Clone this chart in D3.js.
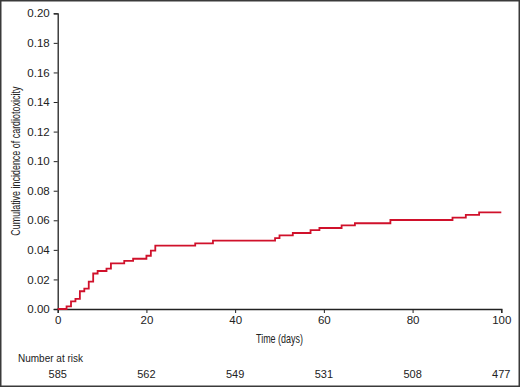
<!DOCTYPE html>
<html>
<head>
<meta charset="utf-8">
<script src="https://cdn.jsdelivr.net/npm/d3@7"></script>
<style>
  body { margin: 0; background: #fff; }
  svg { display: block; }
</style>
</head>
<body>
<div id="chart"></div>
<script>
var width = 520;
var height = 387;

// step times (days) and cumulative incidence after each step
var stepDays = [0, 2, 3, 4, 5, 6, 7, 8, 9, 11, 12, 15, 17, 20, 21, 22, 31, 35, 49, 50, 53, 57, 59, 64, 67, 75, 89, 92, 95];
var stepValues = [0, 0.0018, 0.0052, 0.0068, 0.012, 0.0138, 0.0185, 0.024, 0.0257, 0.0273, 0.0309, 0.0325, 0.034, 0.036, 0.0395, 0.0428, 0.0444, 0.0462, 0.048, 0.0498, 0.0514, 0.0534, 0.0548, 0.0566, 0.058, 0.0602, 0.0618, 0.0636, 0.0654];
var endDay = 100;

var xTicks = [0, 20, 40, 60, 80, 100];
var yTicks = [0, 0.02, 0.04, 0.06, 0.08, 0.10, 0.12, 0.14, 0.16, 0.18, 0.20];
var atRisk = [585, 562, 549, 531, 508, 477];

var margin = { left: 57.7, right: 520 - 501.3, top: 13.3, bottom: 387 - 309 };

var svg = d3.select("#chart")
            .append("svg")
            .attr("width", width)
            .attr("height", height);

// frame round the figure
svg.append("rect")
    .attr("x", 0.75)
    .attr("y", 0.75)
    .attr("width", width - 1.5)
    .attr("height", height - 1.5)
    .attr("fill", "white")
    .attr("stroke", "#3a3a3a")
    .attr("stroke-width", 1.5);

var x = d3.scaleLinear().domain([0, 100]).range([margin.left, width - margin.right]);
var y = d3.scaleLinear().domain([0, 0.2]).range([height - margin.bottom, margin.top]);

var tickFont = "Liberation Sans, Arial, sans-serif";

var xAxis = d3.axisBottom(x)
                .tickValues(xTicks)
                .tickSize(4)
                .tickPadding(3)
                .tickFormat(d3.format("d"));
var gx = svg.append("g")
    .attr("transform", "translate(0," + y(0) + ")")
    .call(xAxis);

var yAxis = d3.axisLeft(y)
                .tickValues(yTicks)
                .tickSize(4)
                .tickPadding(4)
                .tickFormat(d3.format(".2f"));
var gy = svg.append("g")
    .attr("transform", "translate(" + x(0) + ",0)")
    .call(yAxis);

[gx, gy].forEach(function(g) {
    g.select(".domain").attr("stroke", "#222").attr("stroke-width", 1.3);
    g.selectAll(".tick line").attr("stroke", "#222").attr("stroke-width", 1);
    g.selectAll(".tick text")
        .attr("fill", "#222")
        .style("font-family", tickFont)
        .style("font-size", "11.5px");
});

// step curve
var curvePts = stepDays.map(function(d, i) { return { t: d, v: stepValues[i] }; });
curvePts.push({ t: endDay, v: stepValues[stepValues.length - 1] });

var line = d3.line()
    .x(function(d) { return x(d.t); })
    .y(function(d) { return y(d.v); })
    .curve(d3.curveStepAfter);

svg.append("path")
    .datum(curvePts)
    .attr("d", line)
    .attr("fill", "none")
    .attr("stroke", "#d0112b")
    .attr("stroke-width", 1.8);

// axis titles (condensed face, squeezed to the reference width)
svg.append("text")
    .attr("x", (x(0) + x(100)) / 2)
    .attr("y", 343)
    .attr("text-anchor", "middle")
    .attr("fill", "#222")
    .attr("textLength", 47)
    .attr("lengthAdjust", "spacingAndGlyphs")
    .style("font-family", tickFont)
    .style("font-size", "13.5px")
    .text("Time (days)");

svg.append("text")
    .attr("transform", "translate(20," + ((y(0) + y(0.2)) / 2) + ") rotate(-90)")
    .attr("text-anchor", "middle")
    .attr("fill", "#222")
    .attr("textLength", 149)
    .attr("lengthAdjust", "spacingAndGlyphs")
    .style("font-family", tickFont)
    .style("font-size", "13.5px")
    .text("Cumulative incidence of cardiotoxicity");

// number at risk table
svg.append("text")
    .attr("x", 18)
    .attr("y", 362)
    .attr("fill", "#222")
    .style("font-family", tickFont)
    .style("font-size", "10px")
    .text("Number at risk");

svg.selectAll(".risk")
    .data(atRisk)
    .enter()
    .append("text")
    .attr("class", "risk")
    .attr("x", function(d, i) { return x(xTicks[i]); })
    .attr("y", 378)
    .attr("text-anchor", "middle")
    .attr("fill", "#222")
    .style("font-family", tickFont)
    .style("font-size", "11px")
    .text(function(d) { return d; });
</script>
</body>
</html>
